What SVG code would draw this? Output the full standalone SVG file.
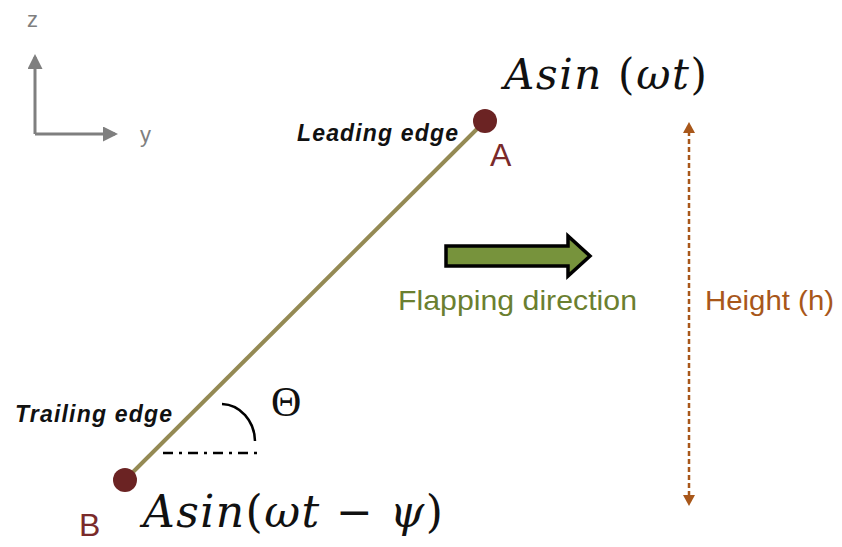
<svg xmlns="http://www.w3.org/2000/svg" width="842" height="547" viewBox="0 0 842 547">
<style>
.ax{stroke:#7f7f7f;stroke-width:3;fill:none}
.axl{font-family:"Liberation Sans",Arial,sans-serif;font-size:22px;fill:#7f7f7f}
.dot{fill:#6b2323}
.pt{font-family:"Liberation Sans",Arial,sans-serif;font-size:32px;fill:#7a2a2a}
.edge{font-family:"Liberation Sans",Arial,sans-serif;font-size:23px;font-weight:bold;font-style:italic;fill:#111}
.math{font-family:"DejaVu Serif","Liberation Serif",serif;fill:#111}
.it{font-style:italic}
</style>
<defs>
<marker id="axh" markerWidth="5" markerHeight="5" refX="4" refY="2.5" orient="auto" markerUnits="strokeWidth">
<path d="M0,0 L5,2.5 L0,5 Z" fill="#7f7f7f"/>
</marker>
</defs>
<g id="axes">
<path class="ax" d="M35,134 V57" marker-end="url(#axh)"/>
<path class="ax" d="M35,134 H115" marker-end="url(#axh)"/>
<text class="axl" x="27" y="27">z</text>
<text class="axl" x="140" y="142">y</text>
</g>
<g id="connectors">
<line x1="485" y1="121" x2="125" y2="480" stroke="#948a54" stroke-width="4"/>
<line x1="163" y1="453" x2="261" y2="453" stroke="#000" stroke-width="2.5" stroke-dasharray="10 6 3 6"/>
<path d="M222,404 A34,38 0 0 1 255,441" fill="none" stroke="#000" stroke-width="2.5"/>
</g>
<g id="pointA">
<circle class="dot" cx="485" cy="121" r="12"/>
<text class="pt" x="490" y="166">A</text>
</g>
<g id="pointB">
<circle class="dot" cx="125" cy="480" r="12"/>
<text class="pt" x="79" y="536">B</text>
</g>
<g id="leading">
<text class="edge" x="297" y="141" textLength="161" lengthAdjust="spacing">Leading edge</text>
</g>
<g id="trailing">
<text class="edge" x="15" y="422" textLength="157" lengthAdjust="spacing">Trailing edge</text>
</g>
<g id="eqA">
<text class="math" x="504" y="89" font-size="42" textLength="203" lengthAdjust="spacing"><tspan class="it">Asin</tspan> (<tspan class="it">ωt</tspan>)</text>
</g>
<g id="eqB">
<text class="math" x="143" y="527" font-size="44" textLength="300" lengthAdjust="spacing"><tspan class="it">Asin</tspan>(<tspan class="it">ωt</tspan> − <tspan class="it">ψ</tspan>)</text>
</g>
<g id="theta">
<text x="271" y="416" font-family="'Liberation Serif',serif" font-size="42" fill="#111">Θ</text>
</g>
<g id="flap">
<path d="M446,246 H568 V236 L590,256 L568,276 V266 H446 Z" fill="#77933c" stroke="#000" stroke-width="3.5" stroke-linejoin="miter"/>
<text x="398" y="310" font-family="'Liberation Sans',Arial,sans-serif" font-size="28" fill="#6b7f30" textLength="239" lengthAdjust="spacingAndGlyphs">Flapping direction</text>
</g>
<g id="height">
<line x1="689" y1="131" x2="689" y2="497" stroke="#a8571a" stroke-width="2.5" stroke-dasharray="5 3"/>
<path d="M689,122 L695,133 L683,133 Z" fill="#a8571a"/>
<path d="M689,506 L695,495 L683,495 Z" fill="#a8571a"/>
<text x="705" y="310" font-family="'Liberation Sans',Arial,sans-serif" font-size="28" fill="#a8571a" textLength="129" lengthAdjust="spacingAndGlyphs">Height (h)</text>
</g>
</svg>
